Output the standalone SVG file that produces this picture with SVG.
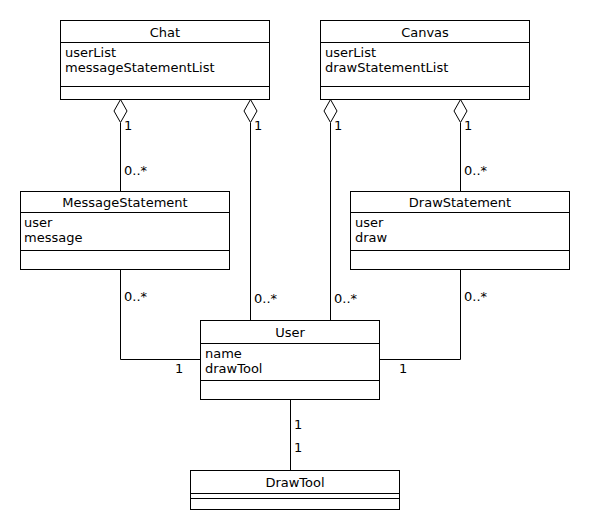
<svg xmlns="http://www.w3.org/2000/svg" width="590" height="530" viewBox="0 0 590 530">
<style>
.box{fill:#fff;stroke:#000;stroke-width:1}
.sep{stroke:#000;stroke-width:1}
.ln{fill:none;stroke:#000;stroke-width:1}
.dia{fill:#fff;stroke:#000;stroke-width:1}
text{font-family:"DejaVu Sans","Liberation Sans",sans-serif;font-size:13px;fill:#000}
.h{text-anchor:middle}
</style>
<rect width="590" height="530" fill="#fff"/>
<g id="connectors">
<line class="ln" x1="120.5" y1="123" x2="120.5" y2="191"/>
<line class="ln" x1="250.5" y1="123" x2="250.5" y2="320"/>
<line class="ln" x1="330.5" y1="123" x2="330.5" y2="320"/>
<line class="ln" x1="460.5" y1="123" x2="460.5" y2="191"/>
<polyline class="ln" points="120.5,269 120.5,359.5 200,359.5"/>
<polyline class="ln" points="460.5,269 460.5,359.5 379,359.5"/>
<line class="ln" x1="290.5" y1="399" x2="290.5" y2="470"/>
<polygon class="dia" points="120.5,99.5 127,111 120.5,122.5 114,111"/>
<polygon class="dia" points="250.5,99.5 257,111 250.5,122.5 244,111"/>
<polygon class="dia" points="330.5,99.5 337,111 330.5,122.5 324,111"/>
<polygon class="dia" points="460.5,99.5 467,111 460.5,122.5 454,111"/>
<text x="124" y="130">1</text>
<text x="254" y="130">1</text>
<text x="334" y="130">1</text>
<text x="464" y="130">1</text>
<text x="124" y="175">0..*</text>
<text x="464" y="175">0..*</text>
<text x="124" y="301">0..*</text>
<text x="254" y="303">0..*</text>
<text x="334" y="303">0..*</text>
<text x="464" y="301">0..*</text>
<text x="175" y="373">1</text>
<text x="399" y="373">1</text>
<text x="294" y="429">1</text>
<text x="294" y="452">1</text>
</g>
<g id="Chat">
<rect class="box" x="60.5" y="20.5" width="209" height="79"/>
<line class="sep" x1="60.5" y1="42.5" x2="269.5" y2="42.5"/>
<line class="sep" x1="60.5" y1="86.5" x2="269.5" y2="86.5"/>
<text class="h" x="165" y="37">Chat</text>
<text x="65" y="57">userList</text>
<text x="65" y="72">messageStatementList</text>
</g>
<g id="Canvas">
<rect class="box" x="320.5" y="20.5" width="209" height="79"/>
<line class="sep" x1="320.5" y1="42.5" x2="529.5" y2="42.5"/>
<line class="sep" x1="320.5" y1="86.5" x2="529.5" y2="86.5"/>
<text class="h" x="425" y="37">Canvas</text>
<text x="325" y="57">userList</text>
<text x="325" y="72">drawStatementList</text>
</g>
<g id="MessageStatement">
<rect class="box" x="20.5" y="191.5" width="209" height="78"/>
<line class="sep" x1="20.5" y1="212.5" x2="229.5" y2="212.5"/>
<line class="sep" x1="20.5" y1="250.5" x2="229.5" y2="250.5"/>
<text class="h" x="125" y="207">MessageStatement</text>
<text x="24" y="227">user</text>
<text x="24" y="242">message</text>
</g>
<g id="DrawStatement">
<rect class="box" x="350.5" y="191.5" width="219" height="78"/>
<line class="sep" x1="350.5" y1="212.5" x2="569.5" y2="212.5"/>
<line class="sep" x1="350.5" y1="250.5" x2="569.5" y2="250.5"/>
<text class="h" x="460" y="207">DrawStatement</text>
<text x="355" y="227">user</text>
<text x="355" y="242">draw</text>
</g>
<g id="User">
<rect class="box" x="200.5" y="320.5" width="179" height="79"/>
<line class="sep" x1="200.5" y1="343.5" x2="379.5" y2="343.5"/>
<line class="sep" x1="200.5" y1="380.5" x2="379.5" y2="380.5"/>
<text class="h" x="290" y="337">User</text>
<text x="205" y="358">name</text>
<text x="205" y="373">drawTool</text>
</g>
<g id="DrawTool">
<rect class="box" x="190.5" y="470.5" width="209" height="39"/>
<line class="sep" x1="190.5" y1="493.5" x2="399.5" y2="493.5"/>
<line class="sep" x1="190.5" y1="498.5" x2="399.5" y2="498.5"/>
<text class="h" x="295" y="487">DrawTool</text>
</g>
</svg>
